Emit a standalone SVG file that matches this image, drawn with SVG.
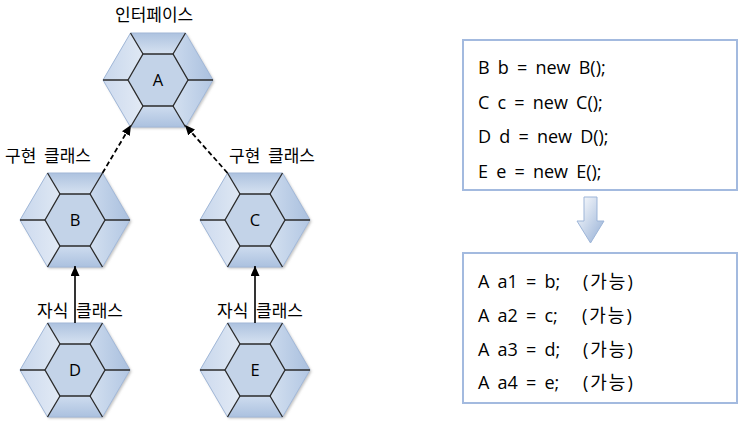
<svg xmlns="http://www.w3.org/2000/svg" width="744" height="423" viewBox="0 0 744 423">
<style>
  .lbl { font-family: "Noto Sans CJK KR", "Noto Sans", sans-serif; font-size: 17px; fill: #000; word-spacing: 4px; }
  .code { font-family: "Open Sans", "Noto Sans CJK KR", sans-serif; font-size: 18px; fill: #000; word-spacing: 3.5px; }
  .ok { letter-spacing: 2px; }
  .hl { font-family: "Open Sans", "Noto Sans CJK KR", sans-serif; font-size: 16.5px; fill: #000; text-anchor: middle; }
  .spoke { stroke: #2b2b2b; stroke-width: 1.3; fill: none; }
  .edge-dash { stroke: #000; stroke-width: 1.8; stroke-dasharray: 5 3; fill: none; }
  .edge { stroke: #000; stroke-width: 1.6; fill: none; }
  .box { fill: #fff; stroke: #a3badf; stroke-width: 2; }
</style>
<defs>
  <linearGradient id="gTop" x1="0" y1="0" x2="0" y2="1">
    <stop offset="0" stop-color="#adc2df"/><stop offset="1" stop-color="#d6e2f1"/>
  </linearGradient>
  <linearGradient id="gUL" x1="0" y1="0" x2="1" y2="0">
    <stop offset="0" stop-color="#c8d7ec"/><stop offset="1" stop-color="#dfe8f4"/>
  </linearGradient>
  <linearGradient id="gLL" x1="0" y1="0" x2="1" y2="0">
    <stop offset="0" stop-color="#cddaee"/><stop offset="1" stop-color="#e2eaf5"/>
  </linearGradient>
  <linearGradient id="gUR" x1="1" y1="0" x2="0" y2="0">
    <stop offset="0" stop-color="#aac0de"/><stop offset="1" stop-color="#cad9ed"/>
  </linearGradient>
  <linearGradient id="gLR" x1="1" y1="0" x2="0" y2="0">
    <stop offset="0" stop-color="#b3c7e3"/><stop offset="1" stop-color="#d3e0f0"/>
  </linearGradient>
  <linearGradient id="gBot" x1="0" y1="1" x2="0" y2="0">
    <stop offset="0" stop-color="#abc1df"/><stop offset="1" stop-color="#cedcef"/>
  </linearGradient>
  <linearGradient id="gBlk" x1="0" y1="0" x2="1" y2="1">
    <stop offset="0" stop-color="#ffffff"/><stop offset="1" stop-color="#93aed5"/>
  </linearGradient>
  <filter id="shadow" x="-20%" y="-20%" width="140%" height="140%">
    <feDropShadow dx="1.5" dy="1.5" stdDeviation="1.2" flood-color="#7a7a7a" flood-opacity="0.45"/>
  </filter>
  <marker id="ah" viewBox="0 0 10 9" refX="10" refY="4.5" markerWidth="10" markerHeight="9" markerUnits="userSpaceOnUse" orient="auto">
    <path d="M0,0 L10,4.5 L0,9 z" fill="#000"/>
  </marker>
  <g id="hex">
    <polygon points="-55,0 -27.5,-47 27.5,-47 55,0 27.5,47 -27.5,47" fill="#c3d3e8" filter="url(#shadow)"/>
    <polygon points="-27.5,-47 27.5,-47 15,-26 -15,-26" fill="url(#gTop)"/>
    <polygon points="27.5,-47 55,0 30,0 15,-26" fill="url(#gUR)"/>
    <polygon points="55,0 27.5,47 15,26 30,0" fill="url(#gLR)"/>
    <polygon points="27.5,47 -27.5,47 -15,26 15,26" fill="url(#gBot)"/>
    <polygon points="-27.5,47 -55,0 -30,0 -15,26" fill="url(#gLL)"/>
    <polygon points="-55,0 -27.5,-47 -15,-26 -30,0" fill="url(#gUL)"/>
    <polygon points="-55,0 -27.5,-47 27.5,-47 55,0 27.5,47 -27.5,47" fill="none" stroke="#a2b8d8" stroke-width="1"/>
    <polygon points="-30,0 -15,-26 15,-26 30,0 15,26 -15,26" fill="#fff" class="spoke"/>
    <path class="spoke" d="M-30,0 H-55 M-15,-26 L-27.5,-47 M15,-26 L27.5,-47 M30,0 H55 M15,26 L27.5,47 M-15,26 L-27.5,47"/>
  </g>
</defs>

<g id="node-A">
  <use href="#hex" transform="translate(158,80)"/>
  <text class="hl" x="158" y="86">A</text>
  <text class="lbl" x="115" y="21">인터페이스</text>
</g>
<g id="node-B">
  <use href="#hex" transform="translate(75,220)"/>
  <text class="hl" x="75" y="226">B</text>
  <text class="lbl" x="5" y="162">구현 클래스</text>
</g>
<g id="node-C">
  <use href="#hex" transform="translate(255,220)"/>
  <text class="hl" x="255" y="226">C</text>
  <text class="lbl" x="229" y="162">구현 클래스</text>
</g>
<g id="node-D">
  <use href="#hex" transform="translate(75,370)"/>
  <text class="hl" x="75" y="376">D</text>
  <text class="lbl" x="37" y="317">자식 클래스</text>
</g>
<g id="node-E">
  <use href="#hex" transform="translate(255,370)"/>
  <text class="hl" x="255" y="376">E</text>
  <text class="lbl" x="217" y="317">자식 클래스</text>
</g>

<g id="connectors">
  <line class="edge-dash" x1="102.5" y1="173" x2="131" y2="125" marker-end="url(#ah)"/>
  <line class="edge-dash" x1="227.5" y1="173" x2="185" y2="125" marker-end="url(#ah)"/>
  <line class="edge" x1="75" y1="323" x2="75" y2="266" marker-end="url(#ah)"/>
  <line class="edge" x1="255" y1="323" x2="255" y2="266" marker-end="url(#ah)"/>
</g>

<g id="code-new">
  <rect class="box" x="463" y="40" width="274" height="150"/>
  <text class="code" x="478" y="74">B b = new B();</text>
  <text class="code" x="478" y="108.5">C c = new C();</text>
  <text class="code" x="478" y="143">D d = new D();</text>
  <text class="code" x="478" y="177.5">E e = new E();</text>
</g>

<g id="block-arrow">
  <path d="M584,197 H597 V221 H604 L590.5,243 L577,221 H584 Z" fill="url(#gBlk)" stroke="#9db5d8" stroke-width="1"/>
</g>

<g id="code-assign">
  <rect class="box" x="463" y="253" width="274" height="150"/>
  <text class="code" x="478" y="288">A a1 = b;<tspan class="ok" x="583">(가능)</tspan></text>
  <text class="code" x="478" y="322">A a2 = c;<tspan class="ok" x="582">(가능)</tspan></text>
  <text class="code" x="478" y="356">A a3 = d;<tspan class="ok" x="583">(가능)</tspan></text>
  <text class="code" x="478" y="389">A a4 = e;<tspan class="ok" x="583">(가능)</tspan></text>
</g>
</svg>
